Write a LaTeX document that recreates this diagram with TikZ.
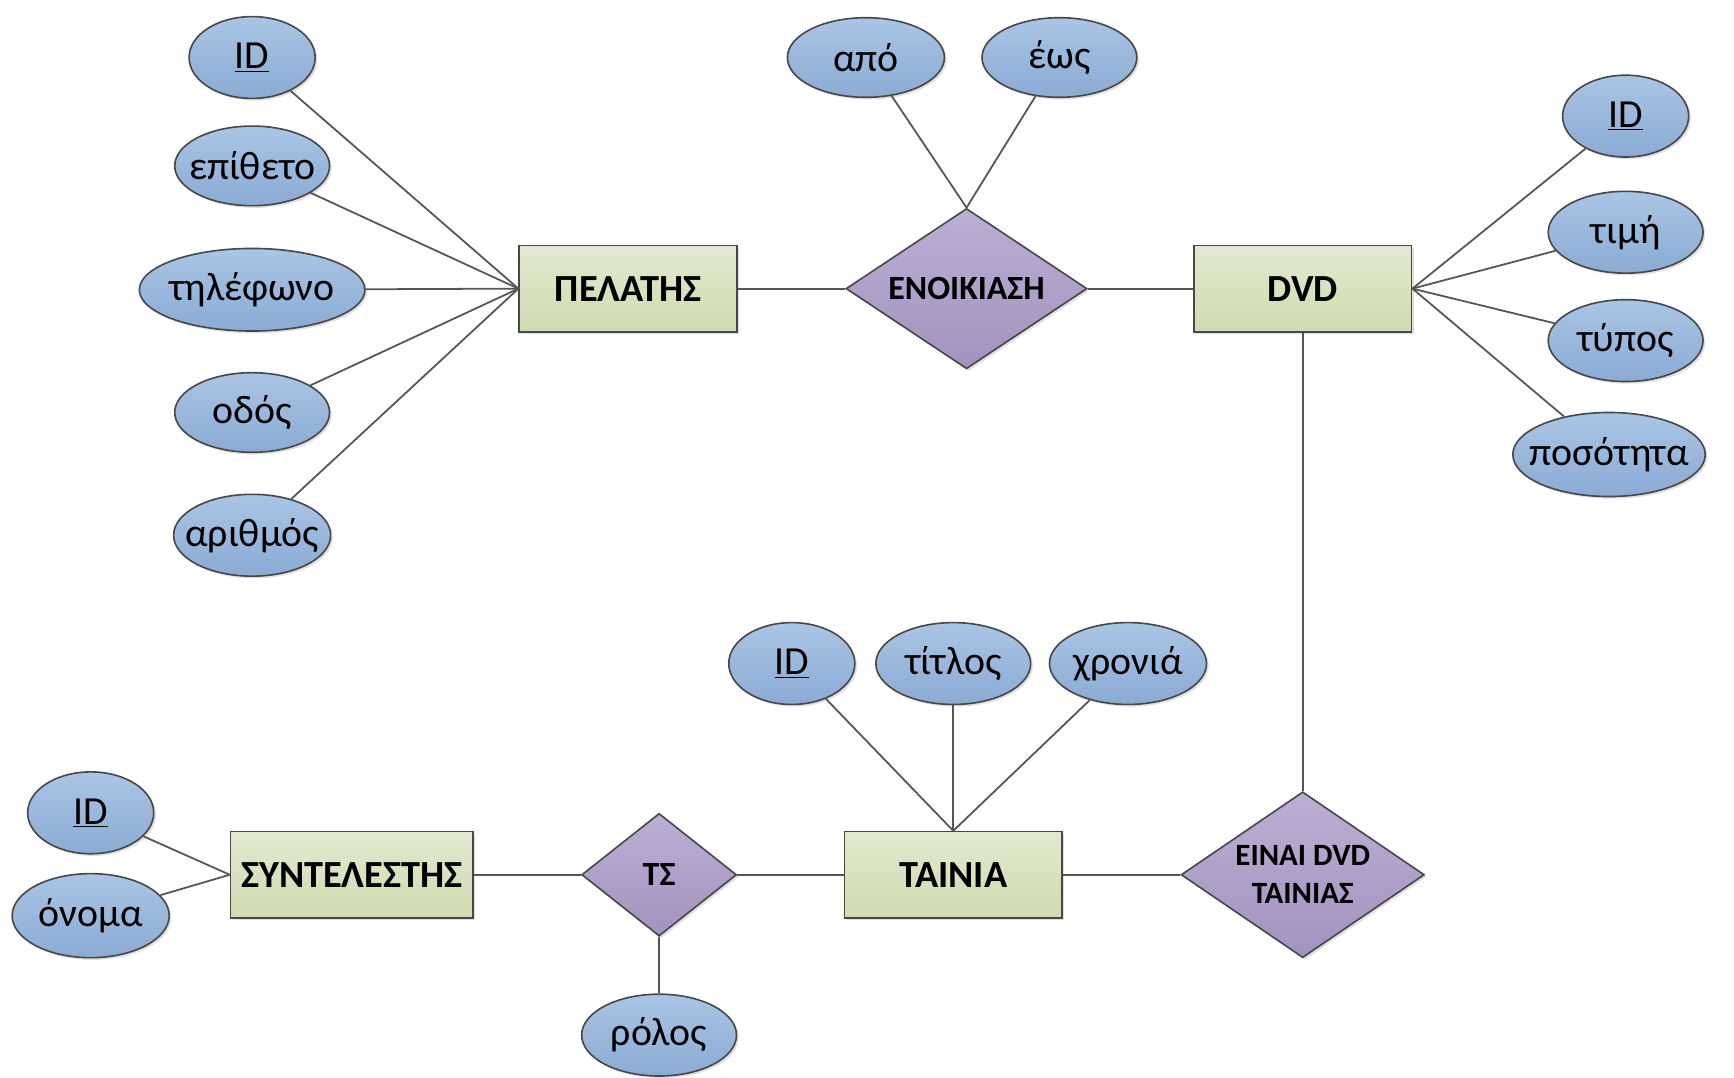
\documentclass[tikz,border=0pt]{standalone}
\usepackage{fontspec}
\setmainfont{Carlito}
\usetikzlibrary{shapes.geometric,shadows}

\definecolor{attrtop}{RGB}{170,197,228}
\definecolor{attrbot}{RGB}{138,171,212}
\definecolor{enttop}{RGB}{226,233,207}
\definecolor{entbot}{RGB}{207,219,176}
\definecolor{reltop}{RGB}{188,175,210}
\definecolor{relbot}{RGB}{163,146,191}
\definecolor{edgecol}{RGB}{72,72,72}
\definecolor{linkcol}{RGB}{85,85,85}

\tikzset{every picture/.style={line width=0.75pt}}
\tikzset{
	base/.style={draw=edgecol, line width=1.1pt, drop shadow={shadow xshift=1.5pt, shadow yshift=-1.5pt, opacity=0.25}},
	attr/.style={base, ellipse, top color=attrtop, bottom color=attrbot, inner xsep=-14pt, inner ysep=0pt, minimum width=105pt, minimum height=54pt, font=\fontsize{27}{32}\selectfont},
	entity/.style={base, rectangle, top color=enttop, bottom color=entbot, inner sep=1pt, minimum width=147.75pt, minimum height=58.5pt, font=\bfseries\fontsize{26}{31}\selectfont},
	rel/.style={base, diamond, shape aspect=1.5, top color=reltop, bottom color=relbot, inner xsep=-10pt, inner ysep=-8pt, font=\bfseries\fontsize{23}{26}\selectfont, align=center},
	link/.style={draw=linkcol, line width=1.2pt},
}

\begin{document}
\begin{tikzpicture}[x=0.75pt,y=0.75pt,yscale=-1,xscale=1]
	\useasboundingbox (0,0) rectangle (1568,974);

	\node [entity] (pelatis) at (568,261) {ΠΕΛΑΤΗΣ};
	\node [entity] (dvd) at (1178,261) {DVD};
	\node [entity] (tainia) at (862,791) {ΤΑΙΝΙΑ};
	\node [entity, minimum width=164.25pt] (syntel) at (318,791) {ΣΥΝΤΕΛΕΣΤΗΣ};

	\node [rel, minimum width=163.5pt, minimum height=108.75pt] (enoik) at (874,261) {ΕΝΟΙΚΙΑΣΗ};
	\node [rel, minimum width=165pt, minimum height=112.5pt, font=\bfseries\fontsize{21}{25.5}\selectfont] (einai) at (1178,791) {ΕΙΝΑΙ DVD\\ΤΑΙΝΙΑΣ};
	\node [rel, minimum width=105pt, minimum height=83.25pt] (ts) at (596,791) {ΤΣ};

	\node [attr, minimum width=85.5pt, minimum height=55.5pt] (pid) at (228,52) {\underline{ID}};
	\node [attr] (epitheto) at (228,150) {επίθετο};
	\node [attr, minimum width=153pt, minimum height=56pt] (tilefono) at (228,262) {τηλέφωνο};
	\node [attr] (odos) at (228,373) {οδός};
	\node [attr, minimum width=106.5pt, minimum height=55.5pt] (arithmos) at (228,484) {αριθμός};

	\node [attr, minimum width=106.5pt] (apo) at (783,52) {από};
	\node [attr] (eos) at (958,52) {έως};

	\node [attr, minimum width=85.5pt, minimum height=55.5pt] (did) at (1470,105) {\underline{ID}};
	\node [attr, minimum height=55.5pt] (timi) at (1470,210) {τιμή};
	\node [attr, minimum height=55.5pt] (typos) at (1470,308) {τύπος};
	\node [attr, minimum width=130.5pt, minimum height=57pt] (posotita) at (1455,411) {ποσότητα};

	\node [attr, minimum width=85.5pt, minimum height=55.5pt] (tid) at (716,600) {\underline{ID}};
	\node [attr, minimum height=55.5pt] (titlos) at (862,600) {τίτλος};
	\node [attr, minimum width=106.5pt, minimum height=55.5pt] (xronia) at (1020,600) {χρονιά};

	\node [attr, minimum width=85.5pt, minimum height=55.5pt] (sid) at (82,735) {\underline{ID}};
	\node [attr, minimum width=106.5pt, minimum height=57pt] (onoma) at (82,828) {όνομα};

	\node [attr, minimum height=55.5pt] (rolos) at (596,936) {ρόλος};

	\foreach \a in {pid,epitheto,tilefono,odos,arithmos}
		\draw [link] (\a) -- (pelatis.west);
	\foreach \a in {apo,eos}
		\draw [link] (\a) -- (enoik.north);
	\foreach \a in {did,timi,typos,posotita}
		\draw [link] (\a) -- (dvd.east);
	\foreach \a in {tid,titlos,xronia}
		\draw [link] (\a) -- (tainia.north);
	\foreach \a in {sid,onoma}
		\draw [link] (\a) -- (syntel.west);

	\draw [link] (pelatis) -- (enoik);
	\draw [link] (enoik) -- (dvd);
	\draw [link] (dvd) -- (einai);
	\draw [link] (tainia) -- (einai);
	\draw [link] (syntel) -- (ts);
	\draw [link] (ts) -- (tainia);
	\draw [link] (ts) -- (rolos);
\end{tikzpicture}
\end{document}
